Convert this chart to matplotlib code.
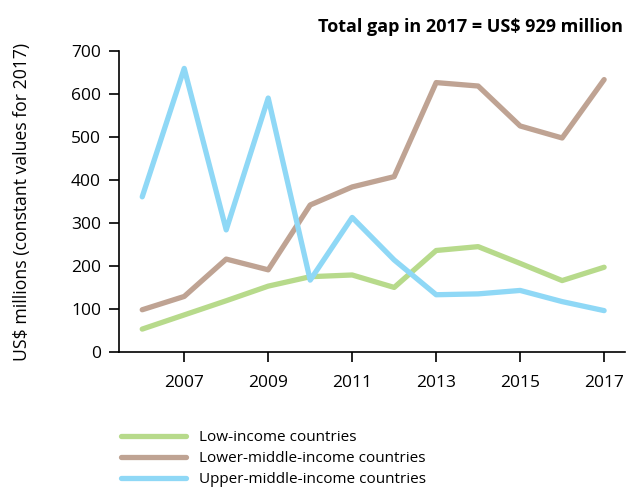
import matplotlib.pyplot as plt

plt.rcParams['font.family'] = ['Open Sans', 'DejaVu Sans']

years = list(range(2006, 2018))
low_income = [53, 86, 119, 153, 175, 179, 150, 236, 245, 206, 166, 197]
lower_middle = [98, 129, 216, 191, 342, 384, 408, 627, 619, 526, 498, 634]
upper_middle = [361, 660, 284, 591, 167, 313, 214, 133, 135, 143, 117, 96]

fig = plt.figure(figsize=(6.27, 4.88), dpi=100)
ax = fig.add_axes([0.19, 0.279, 0.807, 0.616])

ax.plot(years, low_income, color='#b7da8b', lw=3.8, solid_capstyle='round', label='Low-income countries')
ax.plot(years, lower_middle, color='#bfa393', lw=3.8, solid_capstyle='round', label='Lower-middle-income countries')
ax.plot(years, upper_middle, color='#8fd8f6', lw=3.8, solid_capstyle='round', label='Upper-middle-income countries')

ax.set_xlim(2005.45, 2017.5)
ax.set_ylim(0, 700)
ax.set_xticks(range(2007, 2018, 2))
ax.set_yticks(range(0, 701, 100))
ax.tick_params(labelsize=12.5, length=7, width=1.2, colors='black')
ax.tick_params(axis='x', pad=10)
ax.tick_params(axis='y', pad=6)
ax.spines['top'].set_visible(False)
ax.spines['right'].set_visible(False)
for s in ['left', 'bottom']:
    ax.spines[s].set_linewidth(1.2)
ax.set_ylabel('US$ millions (constant values for 2017)', fontsize=12.7)
ax.yaxis.set_label_coords(-0.175, 0.5)

fig.text(0.993, 0.945, 'Total gap in 2017 = US$ 929 million', ha='right', va='center',
         fontsize=13, fontweight='bold')

fig.legend(loc='upper left', bbox_to_anchor=(0.183, 0.131), frameon=False, fontsize=11,
           handlelength=4.25, labelspacing=0.4, handletextpad=0.85, borderaxespad=0)

fig.savefig('out.png', dpi=100)
